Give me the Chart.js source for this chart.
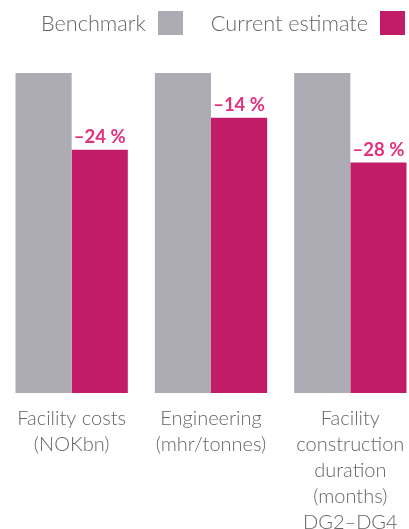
<!DOCTYPE html>
<html>
<head>
<meta charset="utf-8">
<script src="https://cdn.jsdelivr.net/npm/chart.js@4"></script>
<style>
html,body{margin:0;padding:0;background:#fff;overflow:hidden;width:409px;height:529px;}
#wrap{position:absolute;left:0;top:0;width:422px;height:529px;}
#legend{position:absolute;top:10px;right:4px;font-family:Lato,sans-serif;font-weight:300;font-size:21.7px;color:#666;display:flex;align-items:center;white-space:nowrap;z-index:2;}
#legend .box{display:inline-block;width:25px;height:24px;margin-left:12px;}
#legend .item{display:flex;align-items:center;margin-left:28px;}
</style>
</head>
<body>
<div id="legend"></div>
<div id="wrap"><canvas id="c"></canvas></div>
<script>
const categories = [["Facility costs","(NOKbn)"],["Engineering","(mhr/tonnes)"],["Facility","construction","duration","(months)","DG2–DG4"]];
const seriesNames = ["Benchmark","Current estimate"];
const benchmark = [100,100,100];
const current = [76,86,72];
const changeLabels = ["–24 %","–14 %","–28 %"];
const colors = ["#adacb5","#c21c69"];

const lg = document.getElementById('legend');
seriesNames.forEach((n,i)=>{
  const it=document.createElement('span');it.className='item';
  it.appendChild(document.createTextNode(n));
  const b=document.createElement('span');b.className='box';b.style.background=colors[i];
  it.appendChild(b);lg.appendChild(it);
});

const labelPlugin = {
  id:'changeLabels',
  afterDatasetsDraw(chart){
    const ctx=chart.ctx;const meta=chart.getDatasetMeta(1);
    ctx.save();
    ctx.font='bold 18.5px Lato, sans-serif';
    ctx.fillStyle='#e2307e';
    ctx.textAlign='center';ctx.textBaseline='alphabetic';
    meta.data.forEach((bar,i)=>{ctx.fillText(changeLabels[i],bar.x,bar.y-7);});
    ctx.restore();
  }
};

new Chart(document.getElementById('c'),{
  type:'bar',
  data:{labels:categories,datasets:[
    {label:seriesNames[0],data:benchmark,backgroundColor:colors[0]},
    {label:seriesNames[1],data:current,backgroundColor:colors[1]}
  ]},
  options:{
    responsive:true,maintainAspectRatio:false,animation:false,
    layout:{padding:{top:73,left:2,right:2,bottom:0}},
    datasets:{bar:{categoryPercentage:0.806,barPercentage:1}},
    plugins:{legend:{display:false},tooltip:{enabled:false}},
    scales:{
      x:{grid:{display:false},border:{display:false},
        ticks:{color:'#666',font:{family:'Lato',weight:'300',size:20,lineHeight:'26px'},padding:5,maxRotation:0,autoSkip:false},
        afterFit(s){s.height=136;}},
      y:{display:false,min:0,max:100}
    }
  },
  plugins:[labelPlugin]
});
</script>
</body>
</html>
